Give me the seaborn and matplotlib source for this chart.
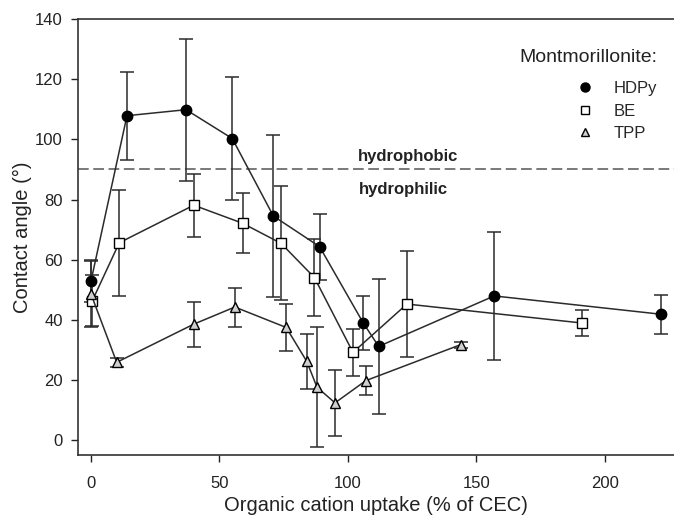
import matplotlib
matplotlib.use("Agg")
import matplotlib.pyplot as plt
from matplotlib.lines import Line2D
import seaborn as sns

# Data (x = uptake % of CEC, y = contact angle, err = +/-)
hdpy_x = [0, 14, 37, 55, 71, 89, 106, 112, 157, 222]
hdpy_y = [52.9, 107.9, 109.9, 100.3, 74.5, 64.3, 38.9, 31.1, 47.9, 41.8]
hdpy_err = [7, 14.7, 23.6, 20.6, 27, 11, 9, 22.5, 21.3, 6.5]

be_x = [0.5, 11, 40, 59, 74, 87, 102, 123, 191]
be_y = [46.3, 65.6, 78.1, 72.1, 65.4, 54.0, 29.1, 45.2, 38.9]
be_err = [8.5, 17.7, 10.5, 10, 19, 12.7, 7.7, 17.6, 4.2]

tpp_x = [0, 10, 40, 56, 76, 84, 88, 95, 107, 144]
tpp_y = [48.5, 25.8, 38.5, 44.2, 37.4, 26.1, 17.5, 12.3, 19.7, 31.7]
tpp_err = [11, 1.5, 7.5, 6.5, 7.7, 9.1, 19.9, 11.1, 4.9, 1]

series_names = ["HDPy", "BE", "TPP"]
legend_title = "Montmorillonite:"
threshold = 90

sns.set_style("ticks")
plt.rcParams['font.family'] = ['Liberation Sans', 'DejaVu Sans']

fig = plt.figure(figsize=(6.74, 5.21), dpi=100)
ax = fig.add_axes([0.116, 0.127, 0.884, 0.836])

styles = [
    (hdpy_x, hdpy_y, hdpy_err, "o", "black", 7.5),
    (be_x, be_y, be_err, "s", "white", 6.5),
    (tpp_x, tpp_y, tpp_err, "^", "#cfcfcf", 6.5),
]

ink = "#2b2b2b"
handles = []
for name, (xs, ys, es, mk, fc, ms) in zip(series_names, styles):
    ax.errorbar(xs, ys, yerr=es, fmt="none", ecolor=ink, elinewidth=1.1,
                capsize=5, capthick=1.1, zorder=2)
    sns.lineplot(x=xs, y=ys, ax=ax, color=ink, linewidth=1.1, marker=mk,
                 markersize=ms, markerfacecolor=fc, markeredgecolor="black",
                 markeredgewidth=1.0, zorder=3)
    handles.append(Line2D([], [], linestyle="none", marker=mk, markersize=ms - 1,
                          markerfacecolor=fc, markeredgecolor="black",
                          markeredgewidth=1.0, label=name))

# hydrophobic / hydrophilic threshold
ax.axhline(threshold, color="#555555", linestyle=(0, (7, 3)), linewidth=1.1, zorder=1)
ax.text(123.5, 94.4, "hydrophobic", ha="center", va="center",
        fontsize=12, fontweight="bold", color="#222222")
ax.text(121.5, 83.4, "hydrophilic", ha="center", va="center",
        fontsize=12, fontweight="bold", color="#222222")

ax.set_xlim(-5, 227)
ax.set_ylim(-5, 140)
ax.set_xticks([0, 50, 100, 150, 200])
ax.set_yticks(range(0, 141, 20))
ax.tick_params(direction="out", length=5, width=1, labelsize=12, colors="#222222")
ax.tick_params(axis="y", pad=6)
ax.tick_params(axis="x", pad=10)
ax.set_xlabel("Organic cation uptake (% of CEC)", fontsize=14.5, color="#222222", labelpad=4)
ax.set_ylabel("Contact angle (°)", fontsize=14.5, color="#222222", labelpad=2)

for side in ["left", "bottom", "top"]:
    ax.spines[side].set_color("#333333")
    ax.spines[side].set_linewidth(1.2)
ax.spines["right"].set_visible(False)

# legend title as separate text so the gap can match
fig.text(0.975, 1 - 58 / 521, legend_title, ha="right", va="center",
         fontsize=14, color="#222222")
ax.legend(handles=handles, loc="upper right",
          bbox_to_anchor=(0.975, 1 - 81 / 521), bbox_transform=fig.transFigure,
          frameon=False, fontsize=12, handlelength=1,
          handletextpad=1.2, labelspacing=0.45, borderaxespad=0, borderpad=0)

fig.savefig("out.png", dpi=100)
